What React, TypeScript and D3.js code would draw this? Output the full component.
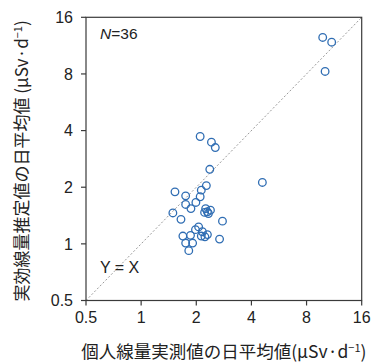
import React from "react";
import * as d3 from "d3";

const xTicks = [0.5, 1, 2, 4, 8, 16];
const yTicks = [0.5, 1, 2, 4, 8, 16];
const tickLabels = ["0.5", "1", "2", "4", "8", "16"];

// measured personal dose (x) vs estimated effective dose (y), µSv/d
const xValues = [
  9.8, 10.97, 10.1, 4.59, 2.1, 2.42, 2.54, 2.37, 2.27, 2.13, 2.1, 1.99,
  1.53, 1.75, 1.75, 1.87, 1.49, 1.65, 2.25, 2.3, 2.39, 2.33, 2.22, 2.78,
  2.06, 1.98, 2.16, 2.13, 2.23, 1.69, 1.86, 2.68, 1.75, 1.91, 1.82, 2.3,
];
const yValues = [
  12.5, 11.8, 8.25, 2.12, 3.72, 3.47, 3.25, 2.49, 2.04, 1.93, 1.78, 1.66,
  1.89, 1.8, 1.62, 1.54, 1.46, 1.35, 1.54, 1.48, 1.51, 1.45, 1.47, 1.32,
  1.23, 1.19, 1.16, 1.1, 1.09, 1.1, 1.11, 1.06, 1.01, 1.01, 0.92, 1.12,
];

const W = 372;
const H = 363;
const left = 86;
const right = 361.7;
const top = 17.3;
const bottom = 300.5;

export default function App() {
  const x = d3.scaleLog().base(2).domain([0.5, 16]).range([left, right]);
  const y = d3.scaleLog().base(2).domain([0.5, 16]).range([bottom, top]);
  const numFont = "'Liberation Sans', Arial, sans-serif";
  const cjkFont = "'Noto Sans CJK JP', 'Noto Sans', sans-serif";
  const axisColor = "#3a3a3a";
  const line = d3.line<number>()
    .x((d) => x(d))
    .y((d) => y(d));
  return (
    <svg
      width={W}
      height={H}
      style={{ position: "absolute", left: 0, top: 0, background: "#fff" }}
    >
      <rect x={0} y={0} width={W} height={H} fill="#fff" />
      {/* y = x reference line */}
      <path
        d={line([0.5, 16]) || ""}
        stroke="#9a9a9a"
        strokeWidth={1}
        strokeDasharray="2,2"
        fill="none"
      />
      {/* frame */}
      <rect
        x={left}
        y={top}
        width={right - left}
        height={bottom - top}
        fill="none"
        stroke={axisColor}
        strokeWidth={1.2}
      />
      {/* x ticks */}
      {xTicks.map((t, i) => (
        <g key={"xt" + i}>
          <line x1={x(t)} x2={x(t)} y1={bottom} y2={bottom + 5} stroke={axisColor} strokeWidth={1.2} />
          <text
            x={x(t)}
            y={bottom + 22.5}
            textAnchor="middle"
            fontFamily={numFont}
            fontSize={16}
            fill="#222"
          >
            {tickLabels[i]}
          </text>
        </g>
      ))}
      {/* y ticks */}
      {yTicks.map((t, i) => (
        <g key={"yt" + i}>
          <line x1={left - 5} x2={left} y1={y(t)} y2={y(t)} stroke={axisColor} strokeWidth={1.2} />
          <text
            x={left - 13}
            y={y(t) + 5.8}
            textAnchor="end"
            fontFamily={numFont}
            fontSize={16}
            fill="#222"
          >
            {tickLabels[i]}
          </text>
        </g>
      ))}
      {/* points */}
      {xValues.map((xv, i) => (
        <circle
          key={"p" + i}
          cx={x(xv)}
          cy={y(yValues[i])}
          r={3.8}
          fill="none"
          stroke="#2f6db3"
          strokeWidth={1.3}
        />
      ))}
      {/* annotations */}
      <text x={100} y={39} fontFamily={numFont} fontSize={15.5} fill="#222">
        <tspan fontStyle="italic">N</tspan>=36
      </text>
      <text x={100} y={273} fontFamily={numFont} fontSize={16} fill="#222">
        Y = X
      </text>
      {/* axis titles */}
      <text
        x={(left + right) / 2}
        y={358}
        textAnchor="middle"
        fontFamily={cjkFont}
        fontSize={17.5}
        fill="#222"
      >
        個人線量実測値の日平均値(μSv·d<tspan fontSize={11} dy={-6}>−1</tspan>
        <tspan dy={6}>)</tspan>
      </text>
      <text
        transform={`translate(28, ${(top + bottom) / 2 + 2}) rotate(-90)`}
        textAnchor="middle"
        fontFamily={cjkFont}
        fontSize={17}
        fill="#222"
      >
        実効線量推定値の日平均値 (μSv·d<tspan fontSize={11} dy={-6}>−1</tspan>
        <tspan dy={6}>)</tspan>
      </text>
    </svg>
  );
}
